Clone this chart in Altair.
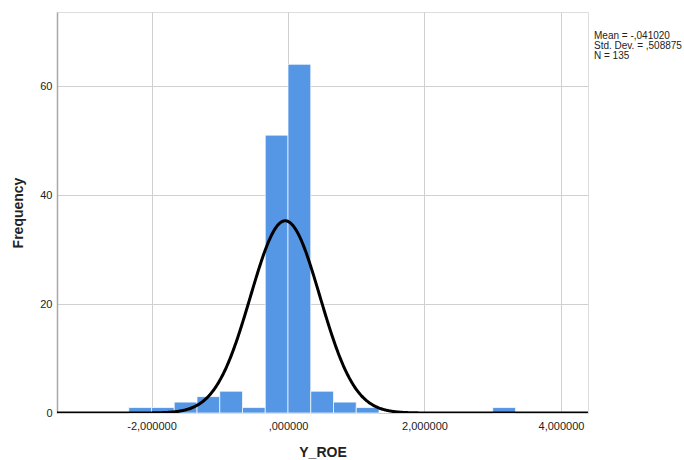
import altair as alt
import pandas as pd

# Histogram data (bin width 1/3)
bin_left = [-7/3, -2.0, -5/3, -4/3, -1.0, -2/3, -1/3, 0.0, 1/3, 2/3, 1.0, 3.0]
counts = [1, 1, 2, 3, 4, 1, 51, 64, 4, 2, 1, 1]
bin_width = 1/3

mean_v = -0.041020
sd_v = 0.508875
n_v = 135

x_ticks = [-2, 0, 2, 4]
y_ticks = [0, 20, 40, 60]
x_domain = [-3.385, 4.396]
y_domain = [0, 73.6]

stats_lines = ["Mean = -,041020", "Std. Dev. = ,508875", "N = 135"]

df = pd.DataFrame({
    "x0": bin_left,
    "x1": [b + bin_width for b in bin_left],
    "count": counts,
})

FONT = "Liberation Sans"

xscale = alt.Scale(domain=x_domain, nice=False, zero=False)
yscale = alt.Scale(domain=y_domain, nice=False)

x_axis = alt.Axis(
    values=x_ticks,
    labelExpr="datum.value == 0 ? ',000000' : (datum.value < 0 ? '-' : '') + replace(format(abs(datum.value), '.6f'), '.', ',')",
    title="Y_ROE", titleFontSize=14, titleFontWeight="bold", titleFont=FONT,
    titleColor="#222222", titlePadding=14,
    labelFont=FONT, labelFontSize=11, labelColor="#222222", labelPadding=7,
    ticks=False, domain=False, grid=True, gridColor="#d0d0d0", gridWidth=1,
)
y_axis = alt.Axis(
    values=y_ticks,
    title="Frequency", titleFontSize=14, titleFontWeight="bold", titleFont=FONT,
    titleColor="#222222", titlePadding=14,
    labelFont=FONT, labelFontSize=11, labelColor="#222222", labelPadding=5,
    ticks=False, domain=True, domainColor="#a8a8a8", domainWidth=1.5,
    grid=True, gridColor="#d0d0d0", gridWidth=1,
)

bars = alt.Chart(df).mark_rect(
    color="#5596e5", stroke="#ffffff", strokeOpacity=0.7, strokeWidth=1
).encode(
    x=alt.X("x0:Q", scale=xscale, axis=x_axis),
    x2="x1:Q",
    y=alt.Y("count:Q", scale=yscale, axis=y_axis),
    y2=alt.datum(0),
)

coef = n_v * bin_width / (sd_v * (2 * 3.141592653589793) ** 0.5)
curve = alt.Chart(
    alt.sequence(start=x_domain[0], stop=x_domain[1] + 0.005, step=0.01, as_="xv")
).transform_calculate(
    yv=f"{coef} * exp(-0.5 * pow((datum.xv - ({mean_v})) / {sd_v}, 2))"
).mark_line(color="#000000", strokeWidth=3, clip=True).encode(
    x=alt.X("xv:Q", scale=xscale),
    y=alt.Y("yv:Q", scale=yscale),
)

stats = alt.Chart(pd.DataFrame({"t": [0]})).mark_text(
    align="left", baseline="top", font=FONT, fontSize=10, lineHeight=10,
    color="#222222",
).encode(
    x=alt.value(537),
    y=alt.value(19),
    text=alt.value(stats_lines),
)

chart = alt.layer(bars, curve, stats).properties(
    width=531, height=401,
    autosize=alt.AutoSizeParams(type="none"),
    padding={"left": 57, "top": 12, "right": 96, "bottom": 47},
).configure_view(stroke=None).configure(background="#ffffff")

chart.save("out.html", embed_options={"renderer": "svg", "actions": False})
